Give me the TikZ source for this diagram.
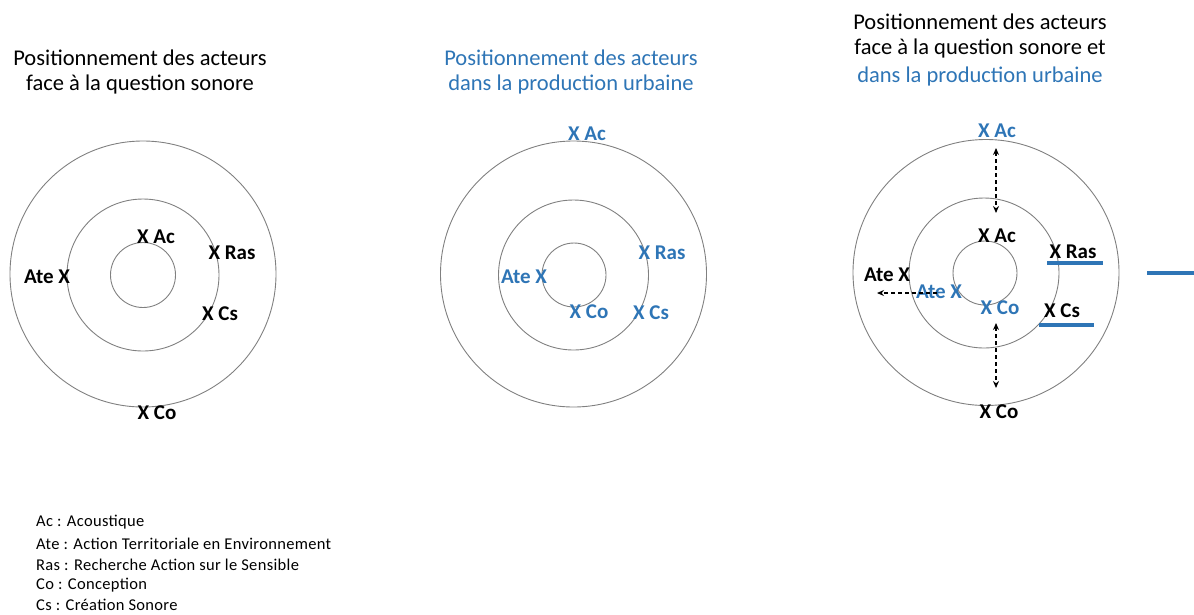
\documentclass[tikz,border=0pt]{standalone}
\usepackage{fontspec}
\setmainfont{Carlito}
\usetikzlibrary{arrows.meta}
\definecolor{mblue}{RGB}{46,117,182}
\definecolor{ring}{RGB}{128,128,128}
\tikzset{
  ringc/.style={draw=ring,line width=0.9pt},
  lab/.style={inner sep=0pt,font=\fontsize{21}{21}\selectfont\bfseries},
  blab/.style={lab,text=mblue},
  ttl/.style={inner sep=0pt,font=\fontsize{22.5}{22.5}\selectfont},
  leg/.style={inner sep=0pt,anchor=west,font=\fontsize{16.5}{16.5}\selectfont\addfontfeature{LetterSpace=2}},
  dasharrow/.style={dashed,line width=1.1pt,dash pattern=on 4pt off 3pt,-{Stealth[length=7pt,width=6pt]}},
  dasharrows/.style={dasharrow,{Stealth[length=7pt,width=6pt]}-{Stealth[length=7pt,width=6pt]}},
  bluebar/.style={draw=mblue,line width=4pt}
}
\begin{document}
\begin{tikzpicture}[x=1pt,y=-1pt]
\useasboundingbox (0,0) rectangle (1194,614);
% titles
\node[ttl] (t1a) at (140,58) {Positionnement des acteurs};
\node[ttl] (t1b) at (140,84) {face à la question sonore};
\node[ttl,text=mblue] (t2a) at (571,58) {Positionnement des acteurs};
\node[ttl,text=mblue] (t2b) at (571,84) {dans la production urbaine};
\node[ttl] (t3a) at (980,22) {Positionnement des acteurs};
\node[ttl] (t3b) at (980,48) {face à la question sonore et};
\node[ttl,text=mblue] (t3c) at (980,76) {dans la production urbaine};
% diagram 1
\draw[ringc] (143,274) circle[radius=133];
\draw[ringc] (143,275) circle[radius=76];
\draw[ringc] (143,275) circle[radius=32.5];
\node[lab] (a1ac) at (156,237) {X Ac};
\node[lab] (a1ras) at (232,253) {X Ras};
\node[lab] (a1ate) at (47,277) {Ate X};
\node[lab] (a1cs) at (220,314) {X Cs};
\node[lab] (a1co) at (157,413) {X Co};
% diagram 2
\draw[ringc] (573.5,274) circle[radius=133];
\draw[ringc] (573.5,275) circle[radius=75];
\draw[ringc] (574,275) circle[radius=32];
\node[blab] (a2ac) at (587,134) {X Ac};
\node[blab] (a2ras) at (662,253) {X Ras};
\node[blab] (a2ate) at (524,277) {Ate X};
\node[blab] (a2co) at (589,312) {X Co};
\node[blab] (a2cs) at (651,313) {X Cs};
% diagram 3
\draw[ringc] (986,272.5) circle[radius=133];
\draw[ringc] (984,273) circle[radius=75];
\draw[ringc] (985,273) circle[radius=32];
\node[blab] (a3acb) at (997,131) {X Ac};
\node[lab] (a3ac) at (997,236) {X Ac};
\node[lab] (a3ras) at (1073,252) {X Ras};
\node[lab] (a3ate) at (887,275) {Ate X};
\node[blab] (a3ateb) at (939,292) {Ate X};
\node[blab] (a3cob) at (1000,308) {X Co};
\node[lab] (a3cs) at (1062,311) {X Cs};
\node[lab] (a3co) at (999,412) {X Co};
\coordinate (r1a) at (1047,263); \coordinate (r1b) at (1103,263);
\coordinate (c1a) at (1039,325); \coordinate (c1b) at (1094,325);
\coordinate (e1a) at (1147,273); \coordinate (e1b) at (1194,273);
\draw[bluebar] (r1a) -- (r1b);
\draw[bluebar] (c1a) -- (c1b);
\draw[bluebar] (e1a) -- (e1b);
\coordinate (u1) at (996,148); \coordinate (u2) at (996,213);
\coordinate (d1) at (996,323); \coordinate (d2) at (996,388);
\coordinate (h1) at (937,293); \coordinate (h2) at (877,293);
\draw[dasharrows] (u1) -- (u2);
\draw[dasharrows] (d1) -- (d2);
\draw[dasharrow] (h1) -- (h2);
% legend
\node[leg] (l1) at (36,522) {Ac : Acoustique};
\node[leg] (l2) at (36,543.5) {Ate : Action Territoriale en Environnement};
\node[leg] (l3) at (36,564.5) {Ras : Recherche Action sur le Sensible};
\node[leg] (l4) at (36,585) {Co : Conception};
\node[leg] (l5) at (36,605) {Cs : Création Sonore};
\end{tikzpicture}
\end{document}
